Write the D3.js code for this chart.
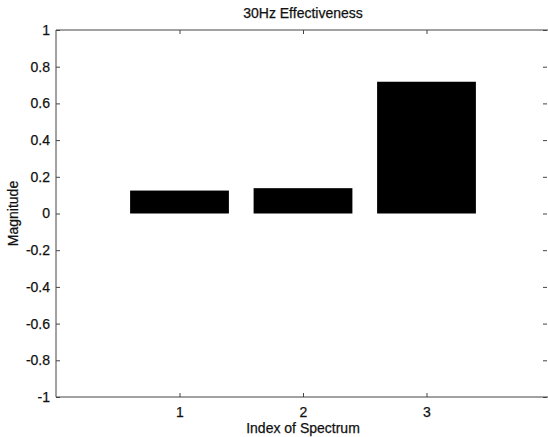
<!DOCTYPE html>
<html>
<head>
<meta charset="utf-8">
<script src="https://cdn.jsdelivr.net/npm/d3@7"></script>
<style>
  body { margin: 0; background: #fff; }
  svg text { font-family: "Liberation Sans", Arial, sans-serif; fill: #111; stroke: #111; stroke-width: 0.25px; }
</style>
</head>
<body>
<div id="chart-area"></div>
<script>
var categories = [1, 2, 3];
var magnitudes = [0.125, 0.138, 0.718];
var yTicks = [-1, -0.8, -0.6, -0.4, -0.2, 0, 0.2, 0.4, 0.6, 0.8, 1];

var width = 548, height = 437;
var margin = { top: 30, right: -2, bottom: 40, left: 56 };
var innerW = width - margin.left - margin.right;
var innerH = 397 - margin.top;

var svg = d3.select("#chart-area")
  .append("svg")
  .attr("width", width)
  .attr("height", height);

var g = svg.append("g")
  .attr("transform", "translate(" + margin.left + ", " + margin.top + ")");

var x = d3.scaleLinear().domain([0, 4]).range([0, innerW]);
var y = d3.scaleLinear().domain([-1, 1]).range([innerH, 0]);

// bars
g.selectAll("rect.bar").data(categories).enter().append("rect")
  .attr("class", "bar")
  .attr("x", (d, i) => x(d - 0.4))
  .attr("width", x(0.8) - x(0))
  .attr("y", (d, i) => y(Math.max(0, magnitudes[i])))
  .attr("height", (d, i) => Math.abs(y(magnitudes[i]) - y(0)))
  .attr("fill", "#000");

// frame
var frameColor = "#444";
g.append("line").attr("x1", 0).attr("x2", innerW + 4).attr("y1", 0).attr("y2", 0)
  .attr("stroke", frameColor);
g.append("line").attr("x1", 0).attr("x2", innerW + 4).attr("y1", innerH).attr("y2", innerH)
  .attr("stroke", frameColor);
g.append("line").attr("x1", 0).attr("x2", 0).attr("y1", 0).attr("y2", innerH)
  .attr("stroke", frameColor);

// plain hyphen minus like the original
var fmt = d => String(+d.toFixed(1));

// axes with inward ticks
var yAxis = d3.axisLeft(y).tickValues(yTicks).tickSizeInner(-4).tickSizeOuter(0).tickPadding(8)
  .tickFormat(fmt);
var yAxisG = g.append("g").call(yAxis);
yAxisG.select(".domain").remove();
yAxisG.selectAll(".tick line").attr("stroke", frameColor);
yAxisG.selectAll("text").style("font-size", "14px").attr("dx", "2");

var yAxisR = d3.axisRight(y).tickValues(yTicks).tickSizeInner(-4).tickSizeOuter(0).tickFormat("");
var yAxisRG = g.append("g").attr("transform", "translate(" + (innerW - 3) + ",0)").call(yAxisR);
yAxisRG.select(".domain").remove();
yAxisRG.selectAll(".tick line").attr("stroke", frameColor);

var xAxis = d3.axisBottom(x).tickValues(categories).tickSizeInner(-4).tickSizeOuter(0).tickPadding(10)
  .tickFormat(d3.format("d"));
var xAxisG = g.append("g").attr("transform", "translate(0," + innerH + ")").call(xAxis);
xAxisG.select(".domain").remove();
xAxisG.selectAll(".tick line").attr("stroke", frameColor);
xAxisG.selectAll("text").style("font-size", "14px");

var xAxisT = d3.axisTop(x).tickValues(categories).tickSizeInner(-4).tickSizeOuter(0).tickFormat("");
var xAxisTG = g.append("g").call(xAxisT);
xAxisTG.select(".domain").remove();
xAxisTG.selectAll(".tick line").attr("stroke", frameColor);

// labels
svg.append("text")
  .attr("x", margin.left + x(2))
  .attr("y", 18)
  .attr("text-anchor", "middle")
  .style("font-size", "14px")
  .text("30Hz Effectiveness");

svg.append("text")
  .attr("x", margin.left + x(2))
  .attr("y", 433)
  .attr("text-anchor", "middle")
  .style("font-size", "14px")
  .text("Index of Spectrum");

svg.append("text")
  .attr("transform", "translate(18," + (margin.top + y(0)) + ") rotate(-90)")
  .attr("text-anchor", "middle")
  .style("font-size", "14px")
  .text("Magnitude");
</script>
</body>
</html>
